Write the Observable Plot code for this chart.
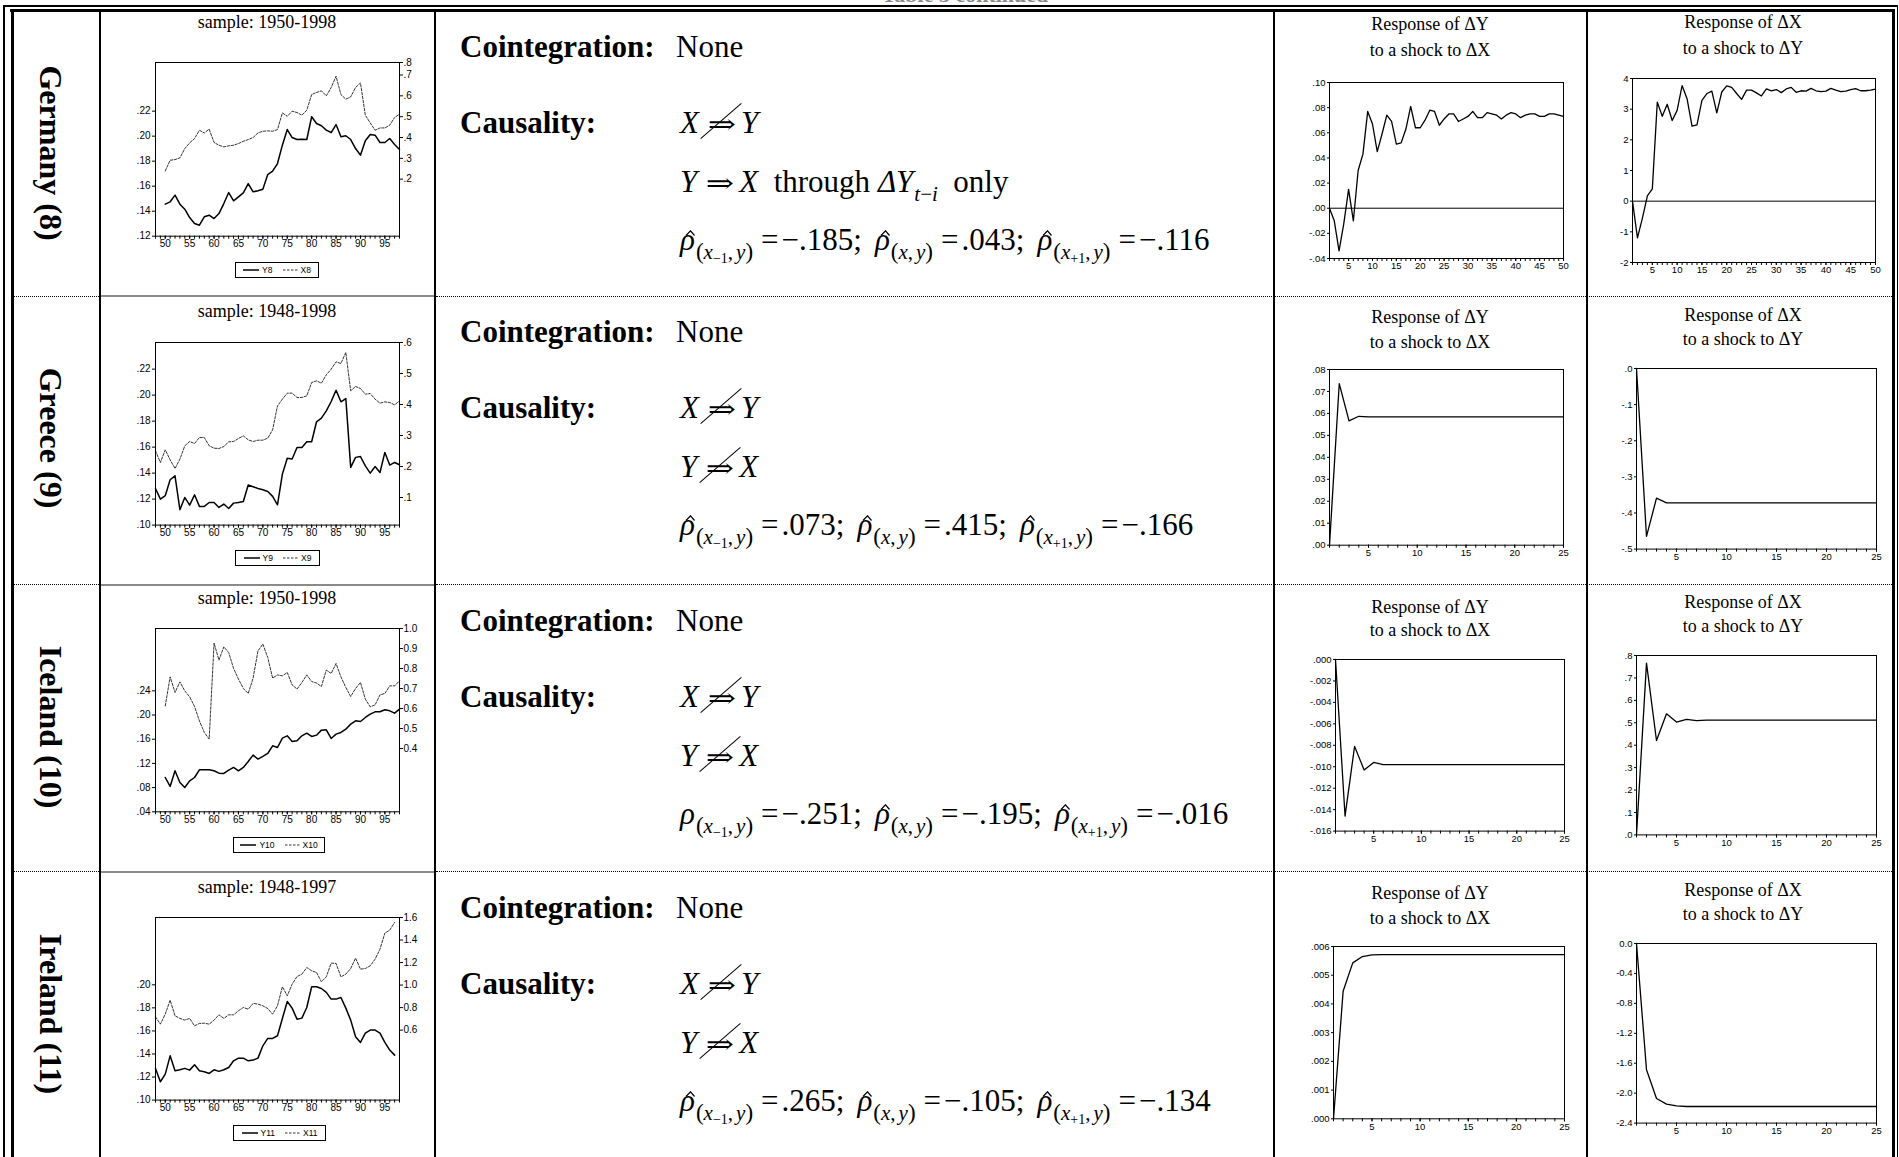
<!DOCTYPE html>
<html><head><meta charset="utf-8">
<script src="https://cdn.jsdelivr.net/npm/d3@7"></script>
<script src="https://cdn.jsdelivr.net/npm/@observablehq/plot@0.6"></script>
<style>
html,body{margin:0;padding:0;background:#fff;}
body{width:1899px;height:1157px;overflow:hidden;position:relative;font-family:"Liberation Serif","Times New Roman",serif;color:#000;}
.a{position:absolute;}
.ln{position:absolute;background:#000;}
.t{position:absolute;white-space:nowrap;line-height:1;}
.m i{font-style:italic;}
.rho{position:relative;display:inline-block;font-style:italic;}
.hat{position:absolute;left:5px;top:6px;}
.s1{font-size:21px;position:relative;top:9px;margin-left:1px;}
.pa{font-size:23px;}
.s2{font-size:14px;position:relative;top:4px;}
.cm{margin-right:3px;}
.eq{margin:0 3px 0 8px;}
.sc{margin-right:13px;}
.arr{font-family:"DejaVu Serif","DejaVu Sans",sans-serif;font-size:26px;position:relative;display:inline-block;width:33px;text-align:center;margin:0 3px 0 6px;font-style:normal;}
.arr .g{display:inline-block;transform:scaleX(1.3);}
.sl{position:absolute;left:50%;top:10px;width:0;height:54px;border-left:1.3px solid #000;transform:translate(-50%,-50%) rotate(49deg);}
.leg{position:absolute;border:1px solid #000;box-sizing:border-box;display:flex;align-items:center;justify-content:center;gap:3px;font-family:"Liberation Sans",Arial,sans-serif;font-size:8.5px;background:#fff;}
.country{position:absolute;font-weight:bold;font-size:32px;white-space:nowrap;line-height:1;transform:translate(-50%,-50%) rotate(90deg);}
</style></head><body>
<script>
// ================= DATA =================
const countries = ["Germany (8)", "Greece (9)", "Iceland (10)", "Ireland (11)"];
const samples = ["sample: 1950-1998", "sample: 1948-1998", "sample: 1950-1998", "sample: 1948-1997"];
const seriesNames = [["Y8", "X8"], ["Y9", "X9"], ["Y10", "X10"], ["Y11", "X11"]];
const startYears = [50, 48, 50, 48];
const cointegration = ["None", "None", "None", "None"];

const germanyY = [.1456,.1475,.1528,.1456,.1416,.1349,.1301,.1288,.1355,.1368,
  .1341,.1381,.1461,.1549,.1483,.1515,.1547,.1621,.1555,.1563,
  .1576,.1693,.1720,.1781,.1928,.2053,.1989,.1973,.1976,.1973,
  .2155,.2101,.2083,.2048,.2029,.2093,.1995,.2003,.1973,.1901,
  .1848,.1963,.2013,.2008,.1949,.1949,.1981,.1933,.1893];
const germanyX = [.240,.291,.294,.302,.347,.374,.395,.435,.422,.440,
  .376,.363,.355,.360,.363,.371,.382,.390,.400,.422,
  .430,.432,.430,.438,.518,.502,.526,.520,.507,.531,
  .606,.616,.624,.600,.640,.694,.606,.584,.595,.640,
  .662,.507,.470,.435,.446,.446,.459,.496,.512];

const greeceY = [.1282,.1200,.1226,.1349,.1379,.1118,.1213,.1154,.1233,.1144,
  .1144,.1174,.1174,.1136,.1162,.1128,.1169,.1174,.1182,.1308,
  .1295,.1282,.1272,.1259,.1221,.1156,.1392,.1515,.1508,.1597,
  .1597,.1641,.1641,.1795,.1823,.1879,.1951,.2038,.1949,.1974,
  .1444,.1521,.1528,.1456,.1400,.1451,.1405,.1559,.1462,.1482,.1464];
const greeceX = [.2505,.2129,.2538,.2215,.1935,.2237,.2667,.2806,.2742,.2935,
  .2935,.2667,.2591,.2581,.2645,.2796,.2806,.2903,.2989,.2860,
  .2806,.2849,.2849,.2914,.3183,.3957,.4172,.4366,.4366,.4226,
  .4226,.4280,.4710,.4763,.4688,.4957,.5140,.5376,.5323,.5677,
  .4441,.4581,.4516,.4333,.4355,.4172,.4043,.4086,.4065,.3989,.4118];

const icelandY = [.0967,.0819,.1078,.0885,.0802,.0912,.0967,.1094,.1094,.1094,
  .1078,.1039,.1034,.1089,.1133,.1078,.1133,.1232,.1337,.1271,
  .1315,.1364,.1491,.1463,.1618,.1656,.1563,.1574,.1656,.1700,
  .1645,.1667,.1750,.1755,.1612,.1684,.1711,.1766,.1849,.1904,
  .1893,.1959,.2014,.2053,.2053,.2086,.2069,.2031,.2097];
const icelandX = [.613,.758,.680,.733,.688,.658,.610,.538,.480,.447,
  .927,.842,.908,.880,.800,.747,.700,.675,.752,.888,
  .922,.855,.752,.768,.763,.780,.718,.697,.730,.768,
  .735,.727,.710,.792,.775,.825,.758,.705,.660,.700,
  .730,.647,.608,.618,.668,.675,.713,.713,.738];

const irelandY = [.1275,.1159,.1225,.1384,.1254,.1263,.1275,.1260,.1306,.1254,
  .1246,.1231,.1263,.1249,.1263,.1283,.1341,.1364,.1364,.1341,
  .1347,.1364,.1471,.1535,.1535,.1558,.1708,.1855,.1798,.1702,
  .1711,.1803,.1983,.1983,.1968,.1934,.1876,.1876,.1890,.1798,
  .1694,.1549,.1500,.1581,.1607,.1607,.1581,.1500,.1434,.1390];
const irelandX = [.718,.653,.742,.866,.727,.704,.689,.704,.638,.659,
  .662,.653,.689,.736,.704,.736,.736,.772,.801,.786,
  .837,.831,.816,.792,.742,.816,.985,.905,1.008,1.076,
  1.097,1.156,1.127,1.112,1.029,1.073,1.195,1.192,1.073,1.097,
  1.147,1.239,1.141,1.147,1.171,1.230,1.319,1.461,1.488,1.556];

const germanyLeftTicks = [.12,.14,.16,.18,.20,.22];
const germanyRightTicks = [.2,.3,.4,.5,.6,.7];
const germanyRightTopLabel = ".8";
const greeceLeftTicks = [.10,.12,.14,.16,.18,.20,.22];
const greeceRightTicks = [.1,.2,.3,.4,.5,.6];
const icelandLeftTicks = [.04,.08,.12,.16,.20,.24];
const icelandRightTicks = [0.4,0.5,0.6,0.7,0.8,0.9,1.0];
const irelandLeftTicks = [.10,.12,.14,.16,.18,.20];
const irelandRightTicks = [0.6,0.8,1.0,1.2,1.4,1.6];
const yearTickLabels = [50,55,60,65,70,75,80,85,90,95];

// impulse responses (periods 1..n)
const germanyIrfY = [0,-.010,-.034,-.012,.015,-.010,.030,.043,.077,.067,
  .045,.059,.074,.069,.051,.052,.063,.081,.064,.064,
  .070,.078,.077,.066,.071,.075,.075,.069,.071,.073,
  .077,.072,.072,.076,.075,.074,.071,.074,.076,.075,
  .072,.074,.075,.075,.073,.073,.075,.075,.074,.073];
const germanyIrfX = [0,-1.2,-.55,.17,.40,3.23,2.77,3.16,2.63,2.96,
  3.77,3.34,2.45,2.49,3.29,3.51,3.59,2.88,3.56,3.76,
  3.71,3.51,3.32,3.62,3.62,3.53,3.43,3.66,3.60,3.64,
  3.54,3.66,3.71,3.55,3.60,3.59,3.68,3.60,3.57,3.59,
  3.68,3.62,3.57,3.59,3.64,3.67,3.60,3.60,3.62,3.65];
const greeceIrfY = [0,.0736,.0566,.0587,.0584, .0584,.0584,.0584,.0584,.0584,
  .0584,.0584,.0584,.0584,.0584, .0584,.0584,.0584,.0584,.0584, .0584,.0584,.0584,.0584,.0584];
const greeceIrfX = [0,-.465,-.359,-.372,-.372, -.372,-.372,-.372,-.372,-.372,
  -.372,-.372,-.372,-.372,-.372, -.372,-.372,-.372,-.372,-.372, -.372,-.372,-.372,-.372,-.372];
const icelandIrfY = [0,-.0146,-.0081,-.0103,-.0096, -.0098,-.0098,-.0098,-.0098,-.0098,
  -.0098,-.0098,-.0098,-.0098,-.0098, -.0098,-.0098,-.0098,-.0098,-.0098, -.0098,-.0098,-.0098,-.0098,-.0098];
const icelandIrfX = [0,.766,.421,.540,.503, .515,.510,.512,.512,.512,
  .512,.512,.512,.512,.512, .512,.512,.512,.512,.512, .512,.512,.512,.512,.512];
const irelandIrfY = [0,.00444,.00543,.00565,.00571, .00572,.00572,.00572,.00572,.00572,
  .00572,.00572,.00572,.00572,.00572, .00572,.00572,.00572,.00572,.00572, .00572,.00572,.00572,.00572,.00572];
const irelandIrfX = [0,-1.688,-2.071,-2.147,-2.169, -2.178,-2.178,-2.178,-2.178,-2.178,
  -2.178,-2.178,-2.178,-2.178,-2.178, -2.178,-2.178,-2.178,-2.178,-2.178, -2.178,-2.178,-2.178,-2.178,-2.178];

const germanyIrfYTicks = [-.04,-.02,0,.02,.04,.06,.08,.10];
const germanyIrfXTicks = [-2,-1,0,1,2,3,4];
const greeceIrfYTicks = [0,.01,.02,.03,.04,.05,.06,.07,.08];
const greeceIrfXTicks = [-.5,-.4,-.3,-.2,-.1,0];
const icelandIrfYTicks = [-.016,-.014,-.012,-.010,-.008,-.006,-.004,-.002,0];
const icelandIrfXTicks = [0,.1,.2,.3,.4,.5,.6,.7,.8];
const irelandIrfYTicks = [0,.001,.002,.003,.004,.005,.006];
const irelandIrfXTicks = [-2.4,-2.0,-1.6,-1.2,-0.8,-0.4,0];
const periodLabels50 = [5,10,15,20,25,30,35,40,45,50];
const periodLabels25 = [5,10,15,20,25];

const rhoValues = [["−.185", ".043", "−.116"], [".073", ".415", "−.166"], ["−.251", "−.195", "−.016"], [".265", "−.105", "−.134"]];
const rhoHats = [[true, true, true], [true, true, true], [false, true, true], [true, true, true]];

// ================= HELPERS =================
const body = document.body;
function add(html, cls, css) {
  const d = document.createElement("div");
  if (cls) d.className = cls;
  if (html != null) d.innerHTML = html;
  Object.assign(d.style, css || {});
  body.appendChild(d);
  return d;
}
function rect(x, y, w, h, bg) { return add(null, "ln", {left: x + "px", top: y + "px", width: w + "px", height: h + "px", background: bg || "#000"}); }
function text(html, x, base, size, o = {}) {
  const k = o.sans ? 0.8465 : 0.8375;
  const d = add(html, "t" + (o.cls ? " " + o.cls : ""), {
    left: x + "px", top: (base - k * size) + "px", fontSize: size + "px",
    fontFamily: o.sans ? '"Liberation Sans",Arial,sans-serif' : '"Liberation Serif","Times New Roman",serif'
  });
  if (o.bold) d.style.fontWeight = "bold";
  if (o.center) d.style.transform = "translateX(-50%)";
  if (o.color) d.style.color = o.color;
  return d;
}
function mount(svg, left, top) {
  const w = add(null, "a", {left: left + "px", top: top + "px"});
  svg.style.maxWidth = "none";
  w.appendChild(svg);
}
const fmt = (dec, lead) => d => {
  const s = Math.abs(d).toFixed(dec);
  return (d < -1e-12 ? "-" : "") + (lead ? s : s.replace(/^0\./, "."));
};
const sansStyle = (fs) => ({fontFamily: '"Liberation Sans",Arial,sans-serif', fontSize: fs, color: "#000", background: "transparent", overflow: "visible"});

// ================= TABLE FRAME =================
text("Table 3 continued", 965, 2, 22, {center: true, bold: true, color: "#888"});
rect(3, 5, 1895, 1.5);
rect(10, 9, 1885, 2.5);
rect(3, 5, 1.5, 1152);
rect(11, 9, 2.5, 1148);
rect(1892, 9, 2.5, 1148);
rect(1896.5, 5, 1.5, 1152);
for (const x of [98.5, 434, 1272.5, 1585.5]) rect(x, 11, 2.2, 1146);
for (const y of [295.5, 584, 871]) {
  add(null, "a", {left: "13.5px", top: y + "px", width: "85px", height: "0", borderTop: "1px dotted #000"});
  rect(100.5, y - 0.5, 333.5, 2, "#8a8a8a");
  add(null, "a", {left: "436px", top: y + "px", width: "1456px", height: "0", borderTop: "1px dotted #000"});
}

const rowTops = [11, 296, 585, 872];

// ================= COUNTRY NAMES =================
countries.forEach((c, i) => add(c, "country", {left: "51px", top: (rowTops[i] + 142) + "px"}));

// ================= SMALL TIME-SERIES CHARTS =================
const tsCfg = [
  {y: germanyY, x: germanyX, left: [.12, .2589], right: [-.0736, .76], lt: germanyLeftTicks, rt: germanyRightTicks, topLabel: germanyRightTopLabel, fr: fmt(1, false), frame: [62.3, 236], title: 28.5, leg: [235, 262, 84]},
  {y: greeceY, x: greeceX, left: [.10, .2405], right: [.011, .6], lt: greeceLeftTicks, rt: greeceRightTicks, fr: fmt(1, false), frame: [341.7, 524.3], title: 317, leg: [235, 550, 85]},
  {y: icelandY, x: icelandX, left: [.04, .343], right: [.0833, 1.0], lt: icelandLeftTicks, rt: icelandRightTicks, fr: fmt(1, true), frame: [628, 811.3], title: 604, leg: [233, 837, 92]},
  {y: irelandY, x: irelandX, left: [.10, .2584], right: [-.0213, 1.6], lt: irelandLeftTicks, rt: irelandRightTicks, fr: fmt(1, true), frame: [916.7, 1099.3], title: 893, leg: [233, 1125, 93]}
];

tsCfg.forEach((c, i) => {
  const [l0, l1] = c.left, [r0, r1] = c.right;
  const toLeft = v => l0 + (v - r0) / (r1 - r0) * (l1 - l0);
  const start = startYears[i];
  const yData = c.y.map((v, k) => ({year: start + k, v}));
  const xData = c.x.map((v, k) => ({year: start + k, v}));
  const rvals = c.rt.map(toLeft);
  const rlab = new Map(c.rt.map(v => [toLeft(v), c.fr(v)]));
  if (c.topLabel) { rvals.push(l1); rlab.set(l1, c.topLabel); }
  const mt = 10, mb = 24, ml = 55, mr = 36;
  const fh = c.frame[1] - c.frame[0];
  const svg = Plot.plot({
    width: 335, height: fh + mt + mb, marginLeft: ml, marginRight: mr, marginTop: mt, marginBottom: mb,
    x: {domain: [48, 98], label: null},
    y: {domain: c.left, label: null},
    style: sansStyle("10px"),
    marks: [
      Plot.axisY(c.lt, {anchor: "left", tickSize: 3, tickPadding: 2, tickFormat: fmt(2, false), label: null}),
      Plot.axisY(rvals, {anchor: "right", tickSize: 3, tickPadding: 1, tickFormat: d => rlab.get(d), label: null}),
      Plot.axisX(d3.range(48, 99), {tickSize: 3, tickFormat: () => "", label: null}),
      Plot.axisX(yearTickLabels, {tickSize: 3, tickPadding: 1, tickFormat: d => String(d), label: null}),
      Plot.line(xData, {x: "year", y: d => toLeft(d.v), stroke: "#000", strokeWidth: 0.8, strokeDasharray: "2.5,1.5"}),
      Plot.line(yData, {x: "year", y: "v", stroke: "#000", strokeWidth: 1.5}),
      Plot.frame({stroke: "#000", strokeWidth: 1})
    ]
  });
  mount(svg, 100, c.frame[0] - mt);
  text(samples[i], 267, c.title, 18, {center: true});
  const solid = `<svg width="16" height="4"><line x1="0" x2="16" y1="2" y2="2" stroke="#000" stroke-width="1.5"/></svg>`;
  const dashed = `<svg width="15" height="4"><line x1="0" x2="15" y1="2" y2="2" stroke="#000" stroke-width="0.8" stroke-dasharray="2.5,1.5"/></svg>`;
  add(`${solid}<span>${seriesNames[i][0]}</span><span style="width:4px"></span>${dashed}<span>${seriesNames[i][1]}</span>`, "leg",
    {left: c.leg[0] + "px", top: c.leg[1] + "px", width: c.leg[2] + "px", height: "15.5px"});
});

// ================= TEXT COLUMN =================
const notCause = (a, b) => `<i>${a}</i><span class="arr"><span class="g">⇒</span><span class="sl"></span></span><i>${b}</i>`;
const cause = (a, b) => `<i>${a}</i><span class="arr"><span class="g">⇒</span></span><i>${b}</i>`;
const causalityHtml = [
  [notCause("X", "Y"), cause("Y", "X") + `&nbsp;&nbsp;through <i>ΔY</i><span class="s1"><i>t</i>−<i>i</i></span>&nbsp; only`],
  [notCause("X", "Y"), notCause("Y", "X")],
  [notCause("X", "Y"), notCause("Y", "X")],
  [notCause("X", "Y"), notCause("Y", "X")]
];
const subs = [
  `<span class="pa">(</span><i>x</i><span class="s2">−1</span><span class="cm">,</span><i>y</i><span class="pa">)</span>`,
  `<span class="pa">(</span><i>x</i><span class="cm">,</span><i>y</i><span class="pa">)</span>`,
  `<span class="pa">(</span><i>x</i><span class="s2">+1</span><span class="cm">,</span><i>y</i><span class="pa">)</span>`
];
const hatSvg = `<svg class="hat" width="10" height="6" viewBox="0 0 10 6"><polyline points="1,5.5 5.5,0.8 9.5,5.5" fill="none" stroke="#000" stroke-width="1.2"/></svg>`;
function rhoLine(vals, hats) {
  return vals.map((v, k) =>
    `<span class="rho">${hats[k] ? hatSvg : ''}ρ</span><span class="s1">${subs[k]}</span><span class="eq">=</span>${v}`
  ).join('<span class="sc">;</span>');
}
rowTops.forEach((r, i) => {
  text("Cointegration:", 460, r + 46, 31, {bold: true});
  text(cointegration[i], 676, r + 46, 31);
  text("Causality:", 460, r + 122, 31, {bold: true});
  text(causalityHtml[i][0], 680, r + 122, 31, {cls: "m"});
  text(causalityHtml[i][1], 680, r + 181, 31, {cls: "m"});
  text(rhoLine(rhoValues[i], rhoHats[i]), 680, r + 239, 31, {cls: "m"});
});

// ================= IMPULSE RESPONSES =================
function irf(c) {
  const ml = 48, mr = 14, mt = 8, mb = 22;
  const fw = c.r - c.l, fh = c.b - c.t;
  const n = c.v.length;
  const data = c.v.map((v, k) => ({p: k + 1, v}));
  const marks = [
    Plot.axisY(c.ticks, {anchor: "left", tickSize: 2, tickPadding: 2, tickFormat: c.fmt, label: null}),
    Plot.axisX(d3.range(1, n + 1), {tickSize: 3, tickFormat: () => "", label: null}),
    Plot.axisX(n === 50 ? periodLabels50 : periodLabels25, {tickSize: 3, tickPadding: 1, tickFormat: d => String(d), label: null})
  ];
  if (c.zero) marks.push(Plot.ruleY([0], {stroke: "#000", strokeWidth: 1}));
  marks.push(Plot.line(data, {x: "p", y: "v", stroke: "#000", strokeWidth: 1.3}));
  marks.push(Plot.frame({stroke: "#000", strokeWidth: 1}));
  const svg = Plot.plot({
    width: fw + ml + mr, height: fh + mt + mb, marginLeft: ml, marginRight: mr, marginTop: mt, marginBottom: mb,
    x: {domain: [1, n], label: null}, y: {domain: c.dom, label: null},
    style: sansStyle("9.5px"), marks
  });
  mount(svg, c.l - ml, c.t - mt);
  text(c.title[0], c.cx, c.tb[0], 18, {center: true});
  text(c.title[1], c.cx, c.tb[1], 18, {center: true});
}
const titleYX = ["Response of ΔY", "to a shock to ΔX"];
const titleXY = ["Response of ΔX", "to a shock to ΔY"];
const irfCfg = [
  {v: germanyIrfY, ticks: germanyIrfYTicks, fmt: fmt(2, false), dom: [-.04, .10], zero: true, l: 1329, r: 1563, t: 81.7, b: 257.7, title: titleYX, cx: 1430, tb: [30, 56]},
  {v: germanyIrfX, ticks: germanyIrfXTicks, fmt: fmt(0, true), dom: [-2, 4], zero: true, l: 1632, r: 1875, t: 78.3, b: 262.3, title: titleXY, cx: 1743, tb: [28.5, 54]},
  {v: greeceIrfY, ticks: greeceIrfYTicks, fmt: fmt(2, false), dom: [0, .08], l: 1329, r: 1563, t: 369.3, b: 545, title: titleYX, cx: 1430, tb: [323, 348]},
  {v: greeceIrfX, ticks: greeceIrfXTicks, fmt: fmt(1, false), dom: [-.5, 0], l: 1636, r: 1876, t: 367.7, b: 548.3, title: titleXY, cx: 1743, tb: [321, 345]},
  {v: icelandIrfY, ticks: icelandIrfYTicks, fmt: fmt(3, false), dom: [-.016, 0], l: 1335, r: 1564, t: 658.7, b: 830.3, title: titleYX, cx: 1430, tb: [613, 636]},
  {v: icelandIrfX, ticks: icelandIrfXTicks, fmt: fmt(1, false), dom: [0, .8], l: 1636, r: 1876, t: 655.3, b: 834.7, title: titleXY, cx: 1743, tb: [608, 632]},
  {v: irelandIrfY, ticks: irelandIrfYTicks, fmt: fmt(3, false), dom: [0, .006], l: 1333, r: 1564, t: 946, b: 1118.3, title: titleYX, cx: 1430, tb: [899, 924]},
  {v: irelandIrfX, ticks: irelandIrfXTicks, fmt: fmt(1, true), dom: [-2.4, 0], l: 1636, r: 1876, t: 942.7, b: 1122.3, title: titleXY, cx: 1743, tb: [896, 920]}
];
irfCfg.forEach(irf);
</script></body></html>
